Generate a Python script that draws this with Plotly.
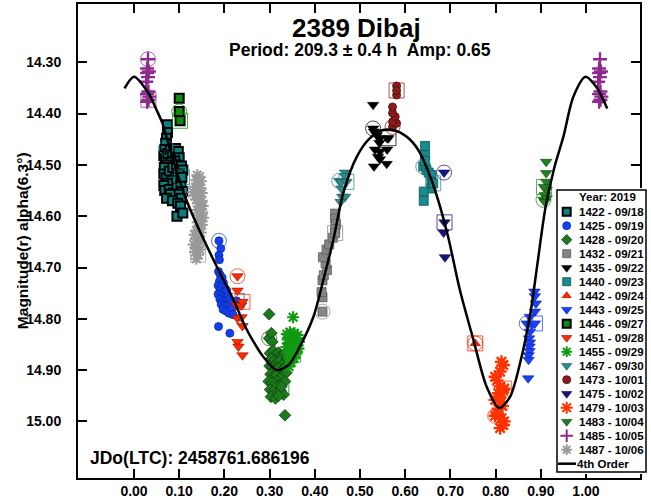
import plotly.graph_objects as go

# ---- observing sessions: rotational phase and reduced magnitude ----
# (first point of each session is ringed with a circle, last with a square)
p1422 = [0.071, 0.074, 0.074, 0.072, 0.070, 0.068, 0.066, 0.070, 0.075, 0.080, 0.085, 0.092,
         0.098, 0.100, 0.090, 0.082, 0.073, 0.067, 0.066, 0.071, 0.078, 0.086, 0.094, 0.105,
         0.108, 0.100, 0.092, 0.084, 0.074, 0.066, 0.068, 0.078, 0.087, 0.095, 0.104, 0.108,
         0.099, 0.105, 0.080, 0.072, 0.085, 0.097, 0.103, 0.095, 0.108, 0.106]
m1422 = [14.467, 14.422, 14.437, 14.448, 14.458, 14.470, 14.482, 14.488, 14.478, 14.471, 14.480, 14.468,
         14.474, 14.486, 14.492, 14.495, 14.500, 14.505, 14.518, 14.525, 14.512, 14.505, 14.500, 14.502,
         14.510, 14.518, 14.525, 14.530, 14.536, 14.540, 14.550, 14.548, 14.555, 14.545, 14.540, 14.552,
         14.557, 14.565, 14.557, 14.565, 14.570, 14.575, 14.580, 14.600, 14.594, 14.524]

p1425 = [0.188, 0.192, 0.188, 0.189, 0.187, 0.191, 0.195, 0.189, 0.198, 0.186, 0.193, 0.201,
         0.190, 0.197, 0.205, 0.186, 0.194, 0.200, 0.208, 0.190, 0.197, 0.204, 0.211, 0.193,
         0.200, 0.207, 0.214, 0.197, 0.204, 0.210, 0.217, 0.219, 0.187, 0.212, 0.227]
m1425 = [14.648, 14.663, 14.676, 14.685, 14.708, 14.715, 14.720, 14.727, 14.730, 14.735, 14.738, 14.740,
         14.745, 14.748, 14.745, 14.752, 14.755, 14.758, 14.755, 14.762, 14.765, 14.766, 14.762, 14.772,
         14.775, 14.773, 14.770, 14.782, 14.785, 14.789, 14.780, 14.792, 14.815, 14.828, 14.765]

p1428 = [0.299, 0.299, 0.304, 0.306, 0.301, 0.308, 0.314, 0.320, 0.326, 0.333, 0.303, 0.310,
         0.317, 0.324, 0.331, 0.338, 0.300, 0.306, 0.313, 0.320, 0.328, 0.335, 0.302, 0.309,
         0.316, 0.323, 0.330, 0.337, 0.298, 0.305, 0.312, 0.319, 0.327, 0.334, 0.301, 0.308,
         0.316, 0.324, 0.331, 0.303, 0.313, 0.320, 0.334, 0.326]
m1428 = [14.838, 14.791, 14.828, 14.845, 14.867, 14.862, 14.870, 14.866, 14.872, 14.868, 14.878, 14.882,
         14.885, 14.880, 14.887, 14.876, 14.892, 14.895, 14.898, 14.896, 14.900, 14.895, 14.908, 14.912,
         14.910, 14.915, 14.910, 14.905, 14.922, 14.925, 14.928, 14.930, 14.926, 14.922, 14.938, 14.942,
         14.945, 14.940, 14.948, 14.952, 14.955, 14.950, 14.988, 14.932]

p1432 = [0.417, 0.417, 0.415, 0.417, 0.420, 0.427, 0.424, 0.418, 0.426, 0.432, 0.440, 0.445,
         0.445, 0.447, 0.445, 0.445]
m1432 = [14.786, 14.758, 14.748, 14.725, 14.715, 14.705, 14.692, 14.680, 14.665, 14.655, 14.642, 14.595,
         14.605, 14.615, 14.625, 14.633]

p1435 = [0.529, 0.529, 0.531, 0.537, 0.544, 0.543, 0.533, 0.544, 0.560, 0.540, 0.544, 0.531,
         0.559, 0.560, 0.563]
m1435 = [14.429, 14.383, 14.435, 14.442, 14.448, 14.457, 14.470, 14.474, 14.470, 14.484, 14.489, 14.503,
         14.498, 14.448, 14.448]

p1440 = [0.640, 0.644, 0.644, 0.644, 0.647, 0.652, 0.658, 0.658, 0.658, 0.641, 0.641, 0.662]
m1440 = [14.503, 14.463, 14.481, 14.492, 14.510, 14.515, 14.520, 14.533, 14.546, 14.552, 14.570, 14.536]

p1442 = [0.755]
m1442 = [14.848]

p1443 = [0.869, 0.886, 0.887, 0.889, 0.887, 0.876, 0.880, 0.876, 0.874, 0.876, 0.875, 0.875,
         0.873, 0.873, 0.872, 0.887]
m1443 = [14.809, 14.747, 14.756, 14.770, 14.786, 14.796, 14.812, 14.825, 14.838, 14.846, 14.854, 14.863,
         14.871, 14.880, 14.916, 14.809]

p1446 = [0.100, 0.100, 0.102]
m1446 = [14.396, 14.370, 14.414]

p1451 = [0.229, 0.229, 0.226, 0.237, 0.229, 0.238, 0.240, 0.229, 0.231, 0.240, 0.240]
m1451 = [14.717, 14.745, 14.773, 14.774, 14.799, 14.797, 14.814, 14.845, 14.854, 14.871, 14.767]

p1455 = [0.349, 0.352, 0.338, 0.345, 0.355, 0.362, 0.340, 0.350, 0.358, 0.365, 0.343, 0.353,
         0.360, 0.337, 0.347, 0.356, 0.364, 0.341, 0.351, 0.359, 0.345, 0.354, 0.348, 0.343, 0.352]
m1455 = [14.835, 14.797, 14.830, 14.826, 14.828, 14.832, 14.840, 14.842, 14.838, 14.845, 14.848, 14.850,
         14.853, 14.855, 14.858, 14.860, 14.858, 14.864, 14.866, 14.868, 14.874, 14.877, 14.885, 14.893, 14.870]

p1467 = [0.454, 0.467, 0.467, 0.459, 0.459, 0.461, 0.467, 0.457, 0.470]
m1467 = [14.531, 14.515, 14.522, 14.533, 14.546, 14.562, 14.562, 14.572, 14.533]

p1473 = [0.572, 0.581, 0.572, 0.578, 0.572, 0.572, 0.581, 0.581, 0.581]
m1473 = [14.426, 14.419, 14.416, 14.406, 14.399, 14.387, 14.364, 14.346, 14.355]

p1475 = [0.686, 0.688, 0.685, 0.687]
m1475 = [14.515, 14.680, 14.632, 14.612]

p1479 = [0.799, 0.813, 0.817, 0.810, 0.799, 0.803, 0.810, 0.817, 0.806, 0.799, 0.813, 0.808,
         0.815, 0.806, 0.813, 0.817, 0.810, 0.819, 0.804, 0.819]
m1479 = [14.989, 14.884, 14.890, 14.903, 14.913, 14.920, 14.932, 14.939, 14.945, 14.958, 14.962, 14.952,
         14.970, 14.975, 14.994, 15.007, 15.013, 15.000, 14.985, 14.936]

p1483 = [0.906, 0.912, 0.912, 0.912, 0.913, 0.909, 0.913, 0.909, 0.907]
m1483 = [14.568, 14.494, 14.516, 14.533, 14.549, 14.559, 14.565, 14.572, 14.543]

p1485 = [0.031, 0.029, 0.033, 0.029, 0.031, 0.027, 0.032, 0.029, 0.034, 0.029, 0.032]
m1485 = [14.294, 14.312, 14.318, 14.321, 14.329, 14.338, 14.357, 14.362, 14.367, 14.377, 14.373]

p1487 = [0.131, 0.140, 0.145, 0.138, 0.148, 0.142, 0.136, 0.147, 0.140, 0.150, 0.135, 0.145,
         0.138, 0.150, 0.142, 0.152, 0.146, 0.140, 0.151, 0.144, 0.153, 0.147, 0.141, 0.150,
         0.145, 0.138, 0.148, 0.134, 0.143, 0.137, 0.147, 0.132, 0.140, 0.146, 0.135, 0.138, 0.142]
m1487 = [14.553, 14.520, 14.523, 14.530, 14.532, 14.538, 14.543, 14.545, 14.550, 14.555, 14.560, 14.562,
         14.568, 14.570, 14.575, 14.580, 14.585, 14.588, 14.593, 14.598, 14.603, 14.608, 14.612, 14.617,
         14.622, 14.628, 14.632, 14.636, 14.640, 14.645, 14.650, 14.655, 14.660, 14.665, 14.670, 14.683, 14.675]

# ---- 4th-order Fourier fit, sampled along phase ----
fit_phase = [-0.021, 0.000, 0.032, 0.050, 0.063, 0.080, 0.113, 0.146, 0.183, 0.220, 0.246, 0.260,
             0.286, 0.316, 0.342, 0.367, 0.397, 0.419, 0.441, 0.463, 0.493, 0.522, 0.551, 0.581,
             0.611, 0.633, 0.658, 0.677, 0.695, 0.721, 0.751, 0.780, 0.808, 0.832, 0.854, 0.877,
             0.893, 0.910, 0.930, 0.950, 0.972, 0.999, 1.023, 1.047]
fit_mag = [14.351, 14.328, 14.360, 14.393, 14.419, 14.471, 14.562, 14.630, 14.698, 14.763, 14.815, 14.838,
           14.874, 14.900, 14.890, 14.854, 14.796, 14.724, 14.646, 14.555, 14.484, 14.448, 14.432, 14.434,
           14.451, 14.477, 14.529, 14.581, 14.640, 14.744, 14.841, 14.932, 14.974, 14.952, 14.887, 14.789,
           14.690, 14.585, 14.505, 14.445, 14.367, 14.328, 14.348, 14.390]

x_ticks = [0.0, 0.1, 0.2, 0.3, 0.4, 0.5, 0.6, 0.7, 0.8, 0.9, 1.0]
y_ticks = [14.3, 14.4, 14.5, 14.6, 14.7, 14.8, 14.9, 15.0]

sessions = [
    ("1422 - 09/18", p1422, m1422),
    ("1425 - 09/19", p1425, m1425),
    ("1428 - 09/20", p1428, m1428),
    ("1432 - 09/21", p1432, m1432),
    ("1435 - 09/22", p1435, m1435),
    ("1440 - 09/23", p1440, m1440),
    ("1442 - 09/24", p1442, m1442),
    ("1443 - 09/25", p1443, m1443),
    ("1446 - 09/27", p1446, m1446),
    ("1451 - 09/28", p1451, m1451),
    ("1455 - 09/29", p1455, m1455),
    ("1467 - 09/30", p1467, m1467),
    ("1473 - 10/01", p1473, m1473),
    ("1475 - 10/02", p1475, m1475),
    ("1479 - 10/03", p1479, m1479),
    ("1483 - 10/04", p1483, m1483),
    ("1485 - 10/05", p1485, m1485),
    ("1487 - 10/06", p1487, m1487),
]

# symbol, fill colour, outline colour, outline width, size
styles = {
    "1422 - 09/18": ("square", "#0b8080", "#000000", 2.0, 9),
    "1425 - 09/19": ("circle", "#1440f5", "#0a2a9a", 0.8, 8),
    "1428 - 09/20": ("diamond", "#1c7a1c", "#0b3f0b", 0.8, 9),
    "1432 - 09/21": ("square", "#858585", "#5c5c5c", 0.8, 9),
    "1435 - 09/22": ("triangle-down", "#000000", "#000000", 0.5, 10),
    "1440 - 09/23": ("square", "#1b8a8a", "#0e5454", 0.8, 9),
    "1442 - 09/24": ("triangle-up", "#ff2200", "#7a1000", 0.6, 9),
    "1443 - 09/25": ("triangle-down", "#1840ff", "#0c2090", 0.6, 10),
    "1446 - 09/27": ("square", "#0f8a0f", "#000000", 2.0, 9),
    "1451 - 09/28": ("triangle-down", "#ff2a00", "#801500", 0.6, 10),
    "1455 - 09/29": ("asterisk-open", "#139a13", "#139a13", 2.2, 10),
    "1467 - 09/30": ("triangle-down", "#2b8a8a", "#175050", 0.6, 10),
    "1473 - 10/01": ("circle", "#8b1a1a", "#4a0c0c", 0.8, 8),
    "1475 - 10/02": ("triangle-down", "#14147e", "#0a0a40", 0.6, 10),
    "1479 - 10/03": ("asterisk-open", "#ff3300", "#ff3300", 2.4, 11),
    "1483 - 10/04": ("triangle-down", "#1f801f", "#0e400e", 0.6, 10),
    "1485 - 10/05": ("cross-thin-open", "#8e2a8e", "#8e2a8e", 2.4, 10),
    "1487 - 10/06": ("asterisk-open", "#9a9a9a", "#9a9a9a", 2.0, 10),
}

FONT = "Liberation Sans, Arial, sans-serif"

fig = go.Figure()


def marker_style(sym, fill, edge, lw, size):
    if sym.endswith("-open"):
        return dict(symbol=sym, size=size, color=fill, line=dict(color=fill, width=lw))
    return dict(symbol=sym, size=size, color=fill, line=dict(color=edge, width=lw))


for name, ph, mag in sessions:
    sym, fill, edge, lw, size = styles[name]
    xs = list(ph)
    ys = list(mag)
    # points near phase zero repeat one cycle later
    for p, m in zip(ph, mag):
        if p < 0.06:
            xs.append(p + 1.0)
            ys.append(m)
    fig.add_trace(go.Scatter(x=xs, y=ys, mode="markers", showlegend=False,
                             marker=marker_style(sym, fill, edge, lw, size),
                             hoverinfo="skip"))
    # session start (circle) and end (square)
    fig.add_trace(go.Scatter(x=[ph[0]], y=[mag[0]], mode="markers", showlegend=False,
                             marker=dict(symbol="circle-open", size=15, color=fill, opacity=0.75,
                                         line=dict(color=fill, width=1)), hoverinfo="skip"))
    fig.add_trace(go.Scatter(x=[ph[-1]], y=[mag[-1]], mode="markers", showlegend=False,
                             marker=dict(symbol="square-open", size=15, color=fill, opacity=0.75,
                                         line=dict(color=fill, width=1)), hoverinfo="skip"))

fig.add_trace(go.Scatter(x=fit_phase, y=fit_mag, mode="lines", showlegend=False,
                         line=dict(color="#000000", width=2.5, shape="spline", smoothing=0.8),
                         hoverinfo="skip"))

# ---- key box on its own small axis pair (units: pixels from box corner) ----
ROW0, ROW_STEP = 21.7, 14.0
KEY_MARK_X, KEY_TEXT_X = 9.7, 19.5
KEY_FONT = dict(family=FONT, size=11.5, color="#000000")
for i, (name, ph, mag) in enumerate(sessions):
    sym, fill, edge, lw, size = styles[name]
    fig.add_trace(go.Scatter(x=[KEY_MARK_X], y=[ROW0 + ROW_STEP * i], mode="markers",
                             showlegend=False, xaxis="x2", yaxis="y2", hoverinfo="skip",
                             marker=marker_style(sym, fill, edge, min(lw, 2.0), max(size - 1, 8))))
    fig.add_annotation(x=KEY_TEXT_X, y=ROW0 + ROW_STEP * i, xref="x2", yref="y2",
                       text="<b>%s</b>" % name, showarrow=False, xanchor="left", yanchor="middle",
                       font=KEY_FONT)
fit_row = ROW0 + ROW_STEP * len(sessions)
fig.add_trace(go.Scatter(x=[1.0, 19.0], y=[fit_row, fit_row], mode="lines", showlegend=False,
                         xaxis="x2", yaxis="y2", hoverinfo="skip",
                         line=dict(color="#000000", width=2.5)))
fig.add_annotation(x=KEY_TEXT_X - 1.5, y=fit_row, xref="x2", yref="y2", text="<b>4th Order</b>",
                   showarrow=False, xanchor="left", yanchor="middle", font=KEY_FONT)
fig.add_annotation(x=50, y=6.7, xref="x2", yref="y2", text="<b>Year: 2019</b>",
                   showarrow=False, xanchor="center", yanchor="middle", font=KEY_FONT)
fig.add_shape(type="rect", xref="x2", yref="y2", x0=0, x1=89, y0=0, y1=282,
              fillcolor="#ffffff", line=dict(color="#000000", width=1.5), layer="below")

# ---- titles and labels ----
fig.add_annotation(x=0.489, y=0.949, xref="paper", yref="paper", text="<b>2389 Dibaj</b>",
                   xanchor="center", yanchor="middle",
                   showarrow=False, font=dict(family=FONT, size=26, color="#000000"))
fig.add_annotation(x=0.495, y=0.903, xref="paper", yref="paper",
                   text="<b>Period: 209.3 ± 0.4 h\u00a0\u00a0Amp: 0.65</b>",
                   xanchor="center", yanchor="middle",
                   showarrow=False, font=dict(family=FONT, size=17.5, color="#000000"))
fig.add_annotation(x=0.0175, y=0.042, xref="paper", yref="paper",
                   text="<b>JDo(LTC): 2458761.686196</b>", xanchor="left", yanchor="middle",
                   showarrow=False, font=dict(family=FONT, size=17.5, color="#000000"))
fig.add_annotation(x=-0.098, y=0.5, xref="paper", yref="paper",
                   text="<b>Magnitude(r) alpha(6.3°)</b>", textangle=-90,
                   xanchor="center", yanchor="middle",
                   showarrow=False, font=dict(family=FONT, size=15.5, color="#000000"))

axis_common = dict(showline=True, linecolor="#000000", linewidth=2, mirror="ticks",
                   ticks="inside", ticklen=9, tickwidth=1.5, tickcolor="#000000",
                   showgrid=False, zeroline=False, automargin=False,
                   tickfont=dict(family=FONT, size=14, color="#000000", weight="bold"))

fig.update_layout(
    width=651, height=499,
    margin=dict(l=78, r=3, t=4, b=21, autoexpand=False),
    paper_bgcolor="#ffffff", plot_bgcolor="#ffffff",
    xaxis=dict(domain=[0, 562 / 570], range=[-0.1239, 1.1195],
               tickvals=x_ticks, ticktext=["%.2f" % v for v in x_ticks],
               ticklabelstandoff=-1, **axis_common),
    yaxis=dict(domain=[0, 1], range=[15.1103, 14.1864],
               tickvals=y_ticks, ticktext=["%.2f" % v for v in y_ticks],
               ticklabelstandoff=12, **axis_common),
    xaxis2=dict(domain=[477 / 570, 1.0], range=[-2, 91], visible=False, anchor="y2"),
    yaxis2=dict(domain=[4 / 474, 290 / 474], range=[284, -2], visible=False, anchor="x2"),
)

fig.write_html("out.html")
